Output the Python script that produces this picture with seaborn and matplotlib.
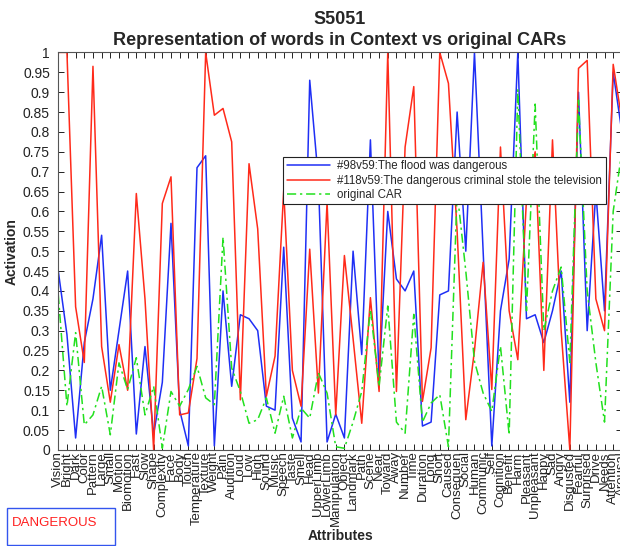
import numpy as np
import pandas as pd
import matplotlib
matplotlib.use("Agg")
import matplotlib.pyplot as plt
import seaborn as sns
from matplotlib.patches import Rectangle

sns.set_style("ticks")
plt.rcParams["font.family"] = ["Liberation Sans", "DejaVu Sans"]

# ── dados ─────────────────────────────────────────────────────────────────────
atributos = ["Vision", "Bright", "Dark", "Color", "Pattern", "Large", "Small",
             "Motion", "Biomotion", "Fast", "Slow", "Shape", "Complexity", "Face",
             "Body", "Touch", "Temperature", "Texture", "Weight", "Pain",
             "Audition", "Loud", "Low", "High", "Sound", "Music", "Speech",
             "Taste", "Smell", "Head", "UpperLimb", "LowerLimb", "Manipulation",
             "Object", "Landmark", "Path", "Scene", "Near", "Toward", "Away",
             "Number", "Time", "Duration", "Long", "Short", "Caused",
             "Consequen", "Social", "Human", "Communic", "Self",
             "Cognition", "Benefit", "Harm", "Pleasant", "Unpleasant", "Happy",
             "Sad", "Angry", "Disgusted", "Fearful", "Surprised", "Drive",
             "Needs", "Attention", "Arousal"]

flood = [0.45, 0.29, 0.03, 0.27, 0.38, 0.54, 0.15, 0.30, 0.45, 0.04,
         0.26, 0.04, 0.17, 0.57, 0.10, 0.01, 0.71, 0.74, 0.01, 0.40,
         0.16, 0.34, 0.33, 0.30, 0.11, 0.10, 0.51, 0.08, 0.02, 0.93,
         0.68, 0.02, 0.09, 0.03, 0.50, 0.24, 0.78, 0.18, 0.60, 0.43,
         0.40, 0.45, 0.06, 0.07, 0.39, 0.40, 0.85, 0.50, 1.00, 0.50,
         0.01, 0.35, 0.48, 1.00, 0.33, 0.34, 0.27, 0.35, 0.45, 0.12,
         0.90, 0.30, 0.65, 0.35, 0.95, 0.80]

criminal = [1.00, 1.00, 0.36, 0.22, 0.965, 0.26, 0.12, 0.265, 0.15, 0.645,
            0.38, 0.00, 0.62, 0.687, 0.088, 0.093, 0.23, 1.00, 0.842, 0.859,
            0.775, 0.126, 0.72, 0.556, 0.135, 0.236, 0.653, 0.20, 0.11, 0.505,
            0.143, 0.623, 0.088, 0.489, 0.28, 0.067, 0.383, 0.147, 1.00, 0.147,
            0.762, 0.914, 0.122, 0.257, 1.00, 0.922, 0.55, 0.076, 0.25, 0.472,
            0.152, 0.762, 0.35, 0.227, 0.63, 0.75, 0.20, 0.78, 0.30, 0.00,
            0.96, 0.98, 0.38, 0.30, 0.97, 0.83]

car = [0.39, 0.11, 0.295, 0.063, 0.088, 0.16, 0.038, 0.219, 0.152, 0.232,
       0.088, 0.16, 0.004, 0.147, 0.11, 0.152, 0.21, 0.131, 0.114, 0.535,
       0.206, 0.147, 0.067, 0.076, 0.131, 0.042, 0.135, 0.03, 0.105, 0.08,
       0.194, 0.143, 0.008, 0.004, 0.07, 0.147, 0.354, 0.16, 0.362, 0.07,
       0.042, 0.341, 0.07, 0.118, 0.139, 0.008, 0.65, 0.45, 0.223, 0.143,
       0.097, 0.261, 0.038, 0.906, 0.35, 0.87, 0.30, 0.40, 0.46, 0.22,
       0.88, 0.40, 0.22, 0.07, 0.60, 0.75]

rotulos = ["#98v59:The flood was dangerous",
           "#118v59:The dangerous criminal stole the television",
           "original CAR"]

yticks = [0, 0.05, 0.1, 0.15, 0.2, 0.25, 0.3, 0.35, 0.4, 0.45, 0.5,
          0.55, 0.6, 0.65, 0.7, 0.75, 0.8, 0.85, 0.9, 0.95, 1]

pos = np.arange(1, len(atributos) + 1)
df = pd.DataFrame({"pos": pos, "flood": flood, "criminal": criminal, "car": car})

# ── figura ────────────────────────────────────────────────────────────────────
fig = plt.figure(figsize=(6.2, 5.46), dpi=100)
ax = fig.add_axes([0.094, 0.176, 0.909, 0.728])

sns.lineplot(data=df, x="pos", y="flood", color="#1f2ff5", linewidth=1.1,
             label=rotulos[0], ax=ax)
sns.lineplot(data=df, x="pos", y="criminal", color="#ff2a1a", linewidth=1.1,
             label=rotulos[1], ax=ax)
sns.lineplot(data=df, x="pos", y="car", color="#22e01e", linewidth=1.1,
             label=rotulos[2], ax=ax)
ax.lines[2].set_dashes([6, 2.5, 1.5, 2.5])

ax.set_xlim(1, len(atributos))
ax.set_ylim(0, 1)
ax.set_xticks(pos)
ax.set_xticklabels(atributos, rotation=90, fontsize=9.5)
ax.set_yticks(yticks)
ax.set_yticklabels([f"{v:g}" for v in yticks], fontsize=10)
ax.tick_params(direction="in", length=4, width=0.7, top=True, right=True,
               colors="#222222")
ax.tick_params(axis="x", pad=1)
ax.tick_params(axis="y", pad=6)
for s in ax.spines.values():
    s.set_color("#555555")
    s.set_linewidth(0.8)

ax.set_title("S5051\nRepresentation of words in Context vs original CARs",
             fontsize=13, fontweight="bold", pad=5, linespacing=1.35)
ax.set_ylabel("Activation", fontsize=10, fontweight="bold", labelpad=3)
ax.set_xlabel("Attributes", fontsize=10, fontweight="bold")
ax.xaxis.set_label_coords(0.5, -0.2)

leg = ax.legend(loc="upper left", bbox_to_anchor=(0.399, 0.737),
                borderaxespad=0, fontsize=8.3, frameon=True, fancybox=False,
                framealpha=1, edgecolor="#222222", handlelength=3.8,
                borderpad=0.3, labelspacing=0.2, handletextpad=0.6)
leg.get_frame().set_linewidth(0.8)

fig.patches.append(Rectangle((7 / 620, 1 - 545 / 546), 108 / 620, 37 / 546,
                             transform=fig.transFigure, facecolor="white",
                             edgecolor="#3355ee", linewidth=1.0))
fig.text(12 / 620, 1 - 523 / 546, "DANGEROUS", color="#ff2020", fontsize=9.5,
         va="center", ha="left")

plt.savefig("out.png", dpi=100)
plt.close()
